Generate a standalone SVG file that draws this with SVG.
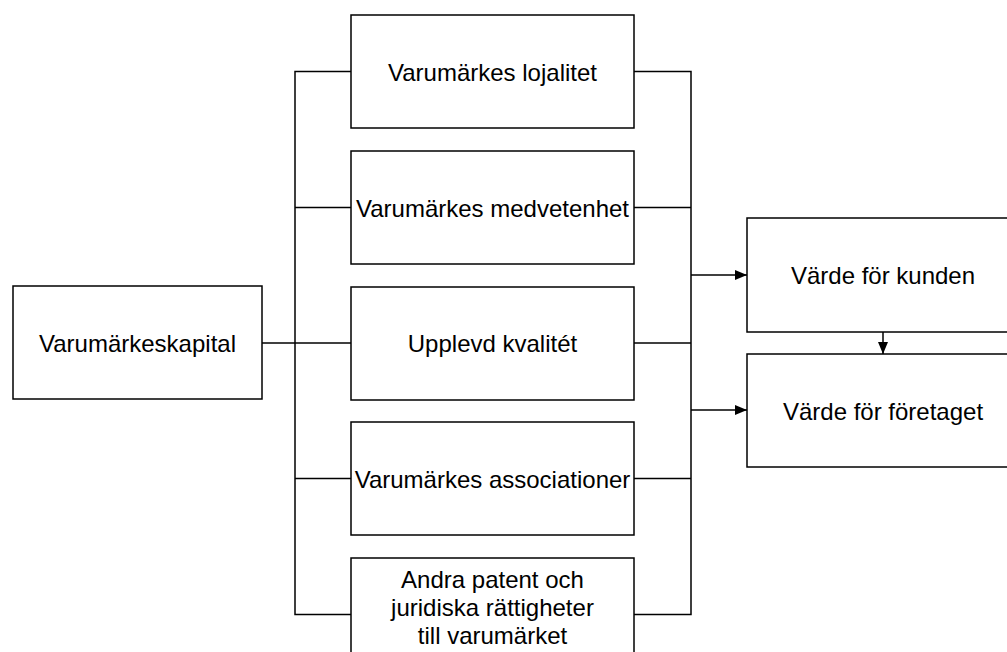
<svg xmlns="http://www.w3.org/2000/svg" width="1007" height="652" viewBox="0 0 1007 652">
<style>
.box{fill:#fff;stroke:#000;stroke-width:1.5}
.lbl{font-family:"Liberation Sans",Arial,sans-serif;font-size:24px;fill:#000;text-anchor:middle}
.ln{fill:none;stroke:#000;stroke-width:1.5}
</style>
<defs>
<marker id="ah" markerUnits="userSpaceOnUse" markerWidth="12" markerHeight="10" refX="12" refY="5" orient="auto">
<path d="M0,0 L12,5 L0,10 Z" fill="#000"/>
</marker>
</defs>
<rect width="1007" height="652" fill="#fff"/>
<g id="connectors">
<path class="ln" d="M262,343 H351"/>
<path class="ln" d="M351,71.5 H295 V614.5 H351"/>
<path class="ln" d="M295,207.5 H351"/>
<path class="ln" d="M295,478.5 H351"/>
<path class="ln" d="M634,71.5 H691 V614.5 H634"/>
<path class="ln" d="M634,207.5 H691"/>
<path class="ln" d="M634,343 H691"/>
<path class="ln" d="M634,478.5 H691"/>
<path class="ln" d="M691,275 H747" marker-end="url(#ah)"/>
<path class="ln" d="M691,410 H747" marker-end="url(#ah)"/>
<path class="ln" d="M883,332 V354" marker-end="url(#ah)"/>
</g>
<g id="n-kapital"><rect class="box" x="13" y="286" width="249" height="113"/><text class="lbl" x="137.5" y="351.5">Varumärkeskapital</text></g>
<g id="n-lojalitet"><rect class="box" x="351" y="15" width="283" height="113"/><text class="lbl" x="492.5" y="80.5">Varumärkes lojalitet</text></g>
<g id="n-medvetenhet"><rect class="box" x="351" y="151" width="283" height="113"/><text class="lbl" x="492.5" y="216.5">Varumärkes medvetenhet</text></g>
<g id="n-kvalitet"><rect class="box" x="351" y="287" width="283" height="113"/><text class="lbl" x="492.5" y="352">Upplevd kvalitét</text></g>
<g id="n-associationer"><rect class="box" x="351" y="422" width="283" height="113"/><text class="lbl" x="492.5" y="487.5">Varumärkes associationer</text></g>
<g id="n-patent"><rect class="box" x="351" y="558" width="283" height="113"/><text class="lbl" x="492.5" y="588">Andra patent och</text><text class="lbl" x="492.5" y="616">juridiska rättigheter</text><text class="lbl" x="492.5" y="644">till varumärket</text></g>
<g id="n-kunden"><rect class="box" x="747" y="218" width="272" height="114"/><text class="lbl" x="883" y="284">Värde för kunden</text></g>
<g id="n-foretaget"><rect class="box" x="747" y="354" width="272" height="113"/><text class="lbl" x="883" y="419.5">Värde för företaget</text></g>
</svg>
